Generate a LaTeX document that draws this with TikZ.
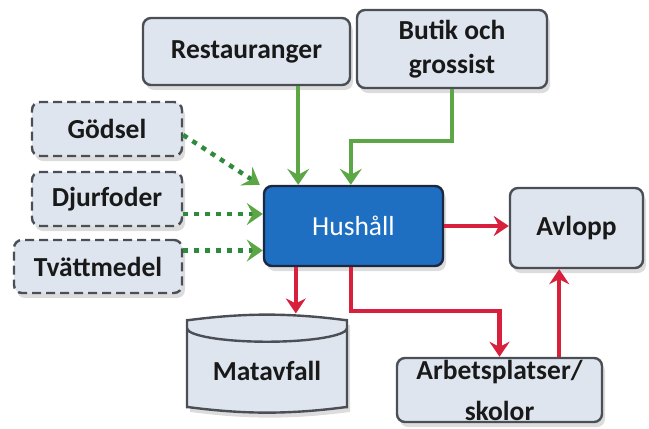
\documentclass[tikz,border=0pt]{standalone}
\usepackage{fontspec}
\setmainfont{Carlito}
\usetikzlibrary{arrows.meta,shapes.geometric,shadows}
\definecolor{boxfill}{HTML}{DEE5EF}
\definecolor{boxline}{HTML}{4B4F55}
\definecolor{hushfill}{HTML}{1E6FC2}
\definecolor{hushline}{HTML}{1C2740}
\definecolor{flowred}{HTML}{D8203C}
\definecolor{flowgreen}{HTML}{5CA646}
\definecolor{dotgreen}{HTML}{2E8A3C}
\begin{document}
\begin{tikzpicture}[x=1pt,y=-1pt,
	every node/.style = {
		font=\fontsize{27.5}{34}\selectfont\bfseries, text=black!90,
		align=center, inner sep=0pt},
	box/.style = {
		shape=rectangle, rounded corners=8pt, draw=boxline, line width=2.4pt,
		fill=boxfill, drop shadow={shadow xshift=3pt, shadow yshift=-5pt, fill=gray!55}},
	dashbox/.style = {box, dash pattern=on 9pt off 5pt},
	redarrow/.style = {draw=flowred, line width=4.5pt,
		-{Stealth[length=15pt, width=20pt, inset=5pt]}},
	greenarrow/.style = {draw=flowgreen, line width=3.5pt,
		-{Stealth[length=16pt, width=22pt, inset=6pt]}},
	dotarrow/.style = {draw=dotgreen, line width=4.5pt, dash pattern=on 5pt off 6pt,
		-{Stealth[length=16pt, width=22pt, inset=6pt, color=flowgreen, fill=flowgreen, sep=0pt]}}]
	\useasboundingbox (0,0) rectangle (649,429);
	\node[box, minimum width=207pt, minimum height=67pt] (rest) at (246.5,51.5) {Restauranger};
	\node[box, minimum width=190pt, minimum height=78pt] (butik) at (452,49) {Butik och\\grossist};
	\node[dashbox, minimum width=150pt, minimum height=54pt] (godsel) at (107,129) {Gödsel};
	\node[dashbox, minimum width=150pt, minimum height=54pt] (djur) at (107,199) {Djurfoder};
	\node[dashbox, minimum width=168pt, minimum height=53pt] (tvatt) at (98,266.5) {Tvättmedel};
	\node[box, fill=hushfill, draw=hushline, text=white, font=\fontsize{27.5}{34}\selectfont,
		minimum width=179pt, minimum height=80pt] (hush) at (353.5,226) {Hushåll};
	\node[box, minimum width=133pt, minimum height=80pt] (avlopp) at (576.5,228) {Avlopp};
	\node[box, shape=cylinder, shape border rotate=90, aspect=0.25,
		minimum width=160pt, minimum height=98pt] (matavfall) at (267,371) {\raisebox{-8pt}{Matavfall}};
	\node[box, minimum width=205pt, minimum height=64pt] (arbets) at (499.5,390) {Arbetsplatser/\\[7pt]skolor};
	\draw[greenarrow] ([xshift=-53pt]rest.south east) -- ([xshift=-53pt]rest.south east |- hush.north);
	\draw[greenarrow] (butik.south) -- ++(0,52) -| ([xshift=88pt]hush.north west);
	\draw[dotarrow] ([yshift=-6pt]godsel.east) -- ([xshift=-3pt]hush.north west);
	\draw[dotarrow] ([yshift=-15pt]djur.east) -- ([yshift=-15pt]djur.east -| hush.west);
	\draw[dotarrow] ([yshift=16pt]tvatt.east) -- ([yshift=16pt]tvatt.east -| hush.west);
	\draw[redarrow] (hush.east) -- (hush.east -| avlopp.west);
	\draw[redarrow] ([xshift=33pt]hush.south west) -- ([xshift=33pt]hush.south west |- matavfall.north);
	\draw[redarrow] ([xshift=88pt]hush.south west) -- ++(0,44) -| (arbets.north);
	\draw[redarrow] ([xshift=-44pt]arbets.north east) -- ([xshift=-44pt]arbets.north east |- avlopp.south);
\end{tikzpicture}
\end{document}
